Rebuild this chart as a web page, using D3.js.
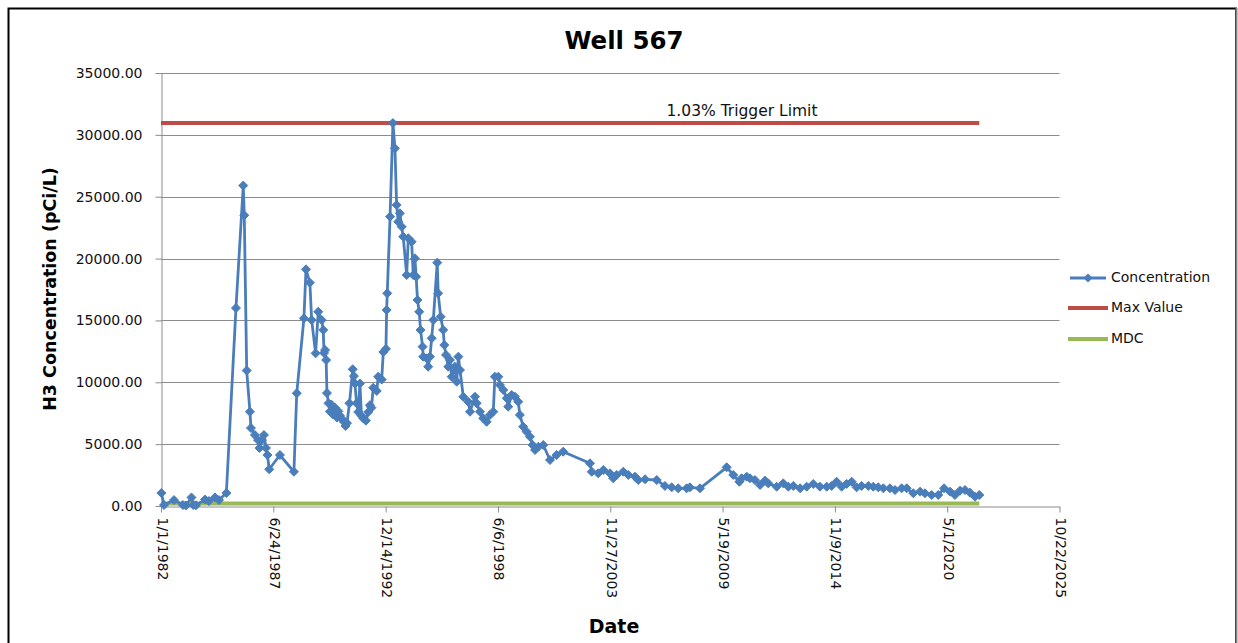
<!DOCTYPE html>
<html>
<head>
<meta charset="utf-8">
<script src="https://cdn.jsdelivr.net/npm/d3@7"></script>
<style>
  html, body { margin: 0; padding: 0; background: #fff; }
  svg { display: block; font-family: "DejaVu Sans", Verdana, sans-serif; }
</style>
</head>
<body>
<svg id="chart" width="1238" height="643"></svg>
<script>
// ---------- data ----------
const title = "Well 567";
const yTitle = "H3 Concentration (pCi/L)";
const xTitle = "Date";
const triggerLabel = "1.03% Trigger Limit";
const seriesNames = ["Concentration", "Max Value", "MDC"];

const xTickLabels = ["1/1/1982", "6/24/1987", "12/14/1992", "6/6/1998", "11/27/2003",
                     "5/19/2009", "11/9/2014", "5/1/2020", "10/22/2025"];
const yTicks = [0, 5000, 10000, 15000, 20000, 25000, 30000, 35000];

const sampleDates = [
  "1982-01-08","1982-02-24","1982-08-20","1983-01-26","1983-03-20","1983-06-28","1983-07-30","1983-09-16",
  "1984-02-24","1984-05-03","1984-08-18","1984-10-30","1985-03-10","1985-08-28","1986-01-05","1986-01-23",
  "1986-03-07","1986-05-04","1986-05-22","1986-07-31","1986-09-24","1986-10-20","1986-12-03","1987-01-08",
  "1987-02-13","1987-03-11","1987-04-12","1987-10-20","1988-06-25","1988-08-14","1988-12-20","1989-01-26",
  "1989-04-05","1989-05-07","1989-07-16","1989-09-01","1989-11-02","1989-11-29","1989-12-13","1990-01-01",
  "1990-01-20","1990-02-03","1990-03-03","1990-03-28","1990-04-23","1990-05-22","1990-06-24","1990-07-30",
  "1990-08-25","1990-09-23","1990-10-26","1990-12-02","1991-01-01","1991-01-26","1991-03-11","1991-05-08",
  "1991-05-30","1991-06-17","1991-07-16","1991-08-14","1991-09-13","1991-10-11","1991-11-10","1991-12-28",
  "1992-02-09","1992-03-10","1992-04-05","1992-05-08","1992-07-09","1992-08-04","1992-10-05","1992-11-03",
  "1992-12-20","1993-01-01","1993-01-12","1993-03-03","1993-04-23","1993-05-29","1993-06-28","1993-07-27",
  "1993-08-25","1993-09-26","1993-10-23","1993-12-24","1994-01-22","1994-03-22","1994-04-20","1994-05-20",
  "1994-06-10","1994-07-05","1994-08-04","1994-08-28","1994-10-03","1994-10-15","1994-12-14","1995-01-11",
  "1995-02-12","1995-03-14","1995-04-12","1995-06-21","1995-07-08","1995-08-21","1995-10-05","1995-10-25",
  "1995-11-24","1996-01-04","1996-02-03","1996-03-04","1996-05-01","1996-06-02","1996-07-01","1996-07-30",
  "1996-09-27","1996-12-25","1997-01-25","1997-04-23","1997-05-23","1997-07-20","1997-09-17","1997-11-17",
  "1998-01-15","1998-03-15","1998-04-13","1998-06-13","1998-07-12","1998-09-09","1998-11-10","1998-12-06",
  "1999-02-06","1999-04-05","1999-06-03","1999-07-02","1999-08-30","1999-10-30","1999-12-28","2000-02-14",
  "2000-03-28","2000-05-26","2000-08-21","2000-12-19","2001-04-16","2001-08-11","2002-12-01","2003-01-01",
  "2003-04-27","2003-07-27","2003-11-22","2004-01-19","2004-03-21","2004-07-16","2004-10-13","2005-02-09",
  "2005-04-09","2005-08-08","2006-03-04","2006-07-28","2006-11-25","2007-03-21","2007-08-18","2007-10-16",
  "2008-04-12","2009-07-31","2009-11-25","2010-03-14","2010-04-23","2010-07-23","2010-09-20","2010-12-16",
  "2011-03-18","2011-06-14","2011-08-11","2012-01-08","2012-05-04","2012-08-03","2012-10-30","2013-02-28",
  "2013-06-25","2013-10-20","2014-02-16","2014-06-17","2014-09-13","2014-12-09","2015-03-10","2015-06-06",
  "2015-09-05","2015-12-01","2016-02-28","2016-06-27","2016-09-23","2016-12-20","2017-03-21","2017-07-16",
  "2017-10-15","2018-02-10","2018-05-11","2018-09-06","2019-01-04","2019-04-01","2019-07-30","2019-11-24",
  "2020-03-06","2020-06-20","2020-09-16","2020-12-16","2021-03-14","2021-06-10","2021-09-08","2021-11-24"
];
const concentration = [
  1050, 80, 480, 80, 40, 690, 80, 60,
  520, 400, 690, 480, 1050, 16000, 25900, 23500,
  10950, 7620, 6300, 5740, 5330, 4690, 5330, 5740,
  4690, 4120, 2970, 4120, 2770, 9110, 15170, 19130,
  18050, 15030, 12340, 15700, 15030, 14230, 12370, 12610,
  11800, 9130, 8300, 7640, 8200, 7400, 7950, 7150,
  7650, 7300, 7050, 6800, 6470, 6700, 8300, 11050,
  10500, 9900, 8300, 7600, 9900, 7300, 7100, 6900,
  7600, 8150, 7950, 9560, 9300, 10450, 10220, 12450,
  12700, 15840, 17190, 23390, 30950, 28910, 24330, 22980,
  23660, 22580, 21770, 18670, 21640, 21360, 18670, 20020,
  18530, 16650, 15700, 14230, 12880, 12070, 11940, 11260,
  12070, 13560, 15030, 19670, 17190, 15300, 14230, 13010,
  12210, 11260, 11800, 10450, 11260, 10050, 12070, 10990,
  8830, 8430, 7620, 8830, 8300, 7620, 7090, 6810,
  7360, 7620, 10450, 10450, 9780, 9380, 8710, 8030,
  8970, 8830, 8430, 7360, 6410, 6010, 5600, 4930,
  4530, 4790, 4930, 3720, 4120, 4390, 3450, 2770,
  2640, 2910, 2640, 2240, 2510, 2770, 2510, 2370,
  2100, 2160, 2100, 1620, 1510, 1430, 1430, 1510,
  1430, 3130, 2510, 1960, 2240, 2370, 2240, 2100,
  1700, 2050, 1830, 1560, 1830, 1560, 1620, 1430,
  1560, 1780, 1560, 1560, 1620, 1960, 1560, 1780,
  1960, 1510, 1620, 1620, 1560, 1510, 1430, 1430,
  1290, 1430, 1430, 1030, 1160, 1030, 890, 890,
  1430, 1160, 890, 1240, 1290, 1080, 750, 890
];
const maxValue = 30950;
const mdcValue = 200;
const limitDates = ["1982-01-01", "2021-11-24"];

// ---------- layout ----------
const svg = d3.select("#chart");
const parseISO = d3.timeParse("%Y-%m-%d");
const parseTick = d3.timeParse("%m/%d/%Y");
const tickDates = xTickLabels.map(parseTick);

const x = d3.scaleTime()
  .domain([tickDates[0], tickDates[tickDates.length - 1]])
  .range([161, 1059.5]);
const y = d3.scaleLinear().domain([0, 35000]).range([506, 73]);

// outer border
svg.append("rect").attr("x", 8.5).attr("y", 8.5).attr("width", 1227.5).attr("height", 660)
  .attr("fill", "none").attr("stroke", "#000").attr("stroke-width", 2);
svg.append("line").attr("x1", 1236.5).attr("x2", 1236.5).attr("y1", 8).attr("y2", 643)
  .attr("stroke", "#888").attr("stroke-width", 2);

// title
svg.append("text").attr("x", 624).attr("y", 49).attr("text-anchor", "middle")
  .attr("font-size", 24.5).attr("font-weight", "bold").attr("fill", "#000").text(title);

// gridlines
svg.append("g").selectAll("line").data(yTicks.filter(d => d > 0)).join("line")
  .attr("x1", 161).attr("x2", 1059.5)
  .attr("y1", d => Math.round(y(d)) + 0.5).attr("y2", d => Math.round(y(d)) + 0.5)
  .attr("stroke", "#8c8c8c").attr("stroke-width", 1);

// y axis
const yAxis = d3.axisLeft(y).tickValues(yTicks).tickSize(6).tickSizeOuter(0)
  .tickFormat(d => d3.format(".2f")(d));
const gy = svg.append("g").attr("transform", "translate(161.5,0)").call(yAxis);
gy.select(".domain").attr("stroke", "#8c8c8c");
gy.selectAll(".tick line").attr("stroke", "#8c8c8c");
gy.selectAll(".tick text").attr("x", -19).attr("font-size", 14)
  .attr("font-family", "DejaVu Sans, Verdana, sans-serif").attr("fill", "#111");

// x axis
const xAxis = d3.axisBottom(x).tickValues(tickDates).tickSize(6).tickSizeOuter(0)
  .tickFormat((d, i) => xTickLabels[i]);
const gx = svg.append("g").attr("transform", "translate(0,506.5)").call(xAxis);
gx.select(".domain").attr("stroke", "#8c8c8c");
gx.selectAll(".tick line").attr("stroke", "#8c8c8c");
gx.selectAll(".tick text")
  .attr("font-size", 14).attr("font-family", "DejaVu Sans, Verdana, sans-serif").attr("fill", "#111")
  .attr("text-anchor", "start").attr("dy", null).attr("y", 0).attr("x", 0)
  .attr("dominant-baseline", "middle")
  .attr("transform", "translate(0,11) rotate(90)");

// axis titles
svg.append("text").attr("transform", "translate(56,289) rotate(-90)")
  .attr("text-anchor", "middle").attr("font-size", 17.5).attr("font-weight", "bold")
  .attr("fill", "#000").text(yTitle);
svg.append("text").attr("x", 614).attr("y", 633).attr("text-anchor", "middle")
  .attr("font-size", 19).attr("font-weight", "bold").attr("fill", "#000").text(xTitle);

// limit lines
const limitData = limitDates.map(parseISO);
svg.append("line")
  .attr("x1", x(limitData[0])).attr("x2", x(limitData[1]))
  .attr("y1", y(mdcValue)).attr("y2", y(mdcValue))
  .attr("stroke", "#98b954").attr("stroke-width", 4);
svg.append("line")
  .attr("x1", x(limitData[0])).attr("x2", x(limitData[1]))
  .attr("y1", y(maxValue)).attr("y2", y(maxValue))
  .attr("stroke", "#be4b48").attr("stroke-width", 4);

svg.append("text").attr("x", 742).attr("y", 116).attr("text-anchor", "middle")
  .attr("font-size", 15.5).attr("fill", "#111").text(triggerLabel);

// concentration series
const pts = sampleDates.map((d, i) => ({ date: parseISO(d), value: concentration[i] }));
const line = d3.line().x(d => x(d.date)).y(d => y(d.value));
svg.append("path").datum(pts).attr("d", line)
  .attr("fill", "none").attr("stroke", "#4a7ebb").attr("stroke-width", 2.8)
  .attr("stroke-linejoin", "round");
const diamond = "M0,-4.5L4.5,0L0,4.5L-4.5,0Z";
svg.append("g").selectAll("path").data(pts).join("path")
  .attr("d", diamond)
  .attr("transform", d => `translate(${x(d.date)},${y(d.value)})`)
  .attr("fill", "#4a7ebb").attr("stroke", "#4a7ebb").attr("stroke-width", 1);

// legend
const legendColors = ["#4a7ebb", "#be4b48", "#98b954"];
const legendY = [278, 308, 339];
const lg = svg.append("g");
seriesNames.forEach((name, i) => {
  lg.append("line").attr("x1", i === 0 ? 1070 : 1068).attr("x2", i === 0 ? 1106 : 1108)
    .attr("y1", legendY[i]).attr("y2", legendY[i])
    .attr("stroke", legendColors[i]).attr("stroke-width", i === 0 ? 2.8 : 4);
  if (i === 0) {
    lg.append("path").attr("d", diamond).attr("transform", `translate(1088,${legendY[i]})`)
      .attr("fill", legendColors[i]);
  }
  lg.append("text").attr("x", 1111).attr("y", legendY[i]).attr("dominant-baseline", "middle")
    .attr("font-size", 14).attr("fill", "#111").text(name);
});
</script>
</body>
</html>
